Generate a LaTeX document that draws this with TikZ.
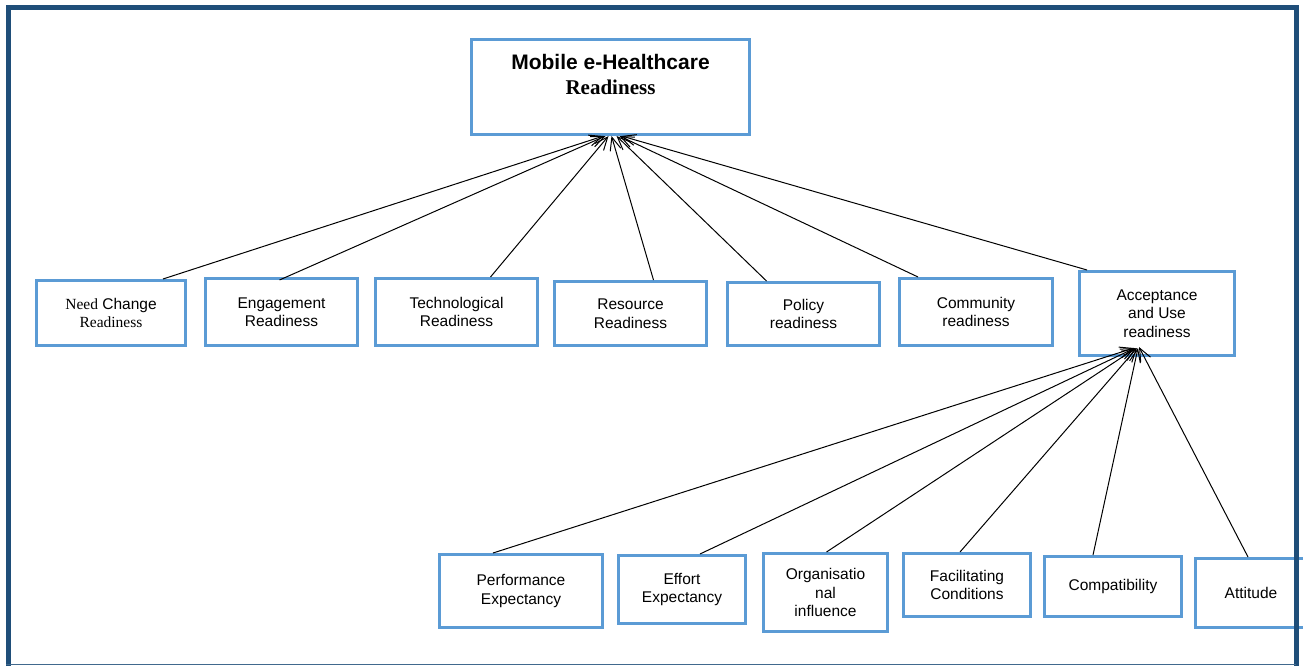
\documentclass[tikz,border=0pt]{standalone}
\usepackage{fontspec}
\setmainfont{Liberation Serif}
\setsansfont{Liberation Sans}
\usetikzlibrary{arrows.meta}
\definecolor{boxblue}{HTML}{5B9BD5}
\definecolor{framenavy}{HTML}{1F4E79}
\tikzset{
  box/.style={draw=boxblue, line width=3pt, fill=white, align=center, inner sep=2pt,
    font=\sffamily\fontsize{15.5}{18.5}\selectfont},
  link/.style={line width=1pt, -{Straight Barb[length=13pt,width=11pt]}},
  framebar/.style={fill=framenavy, draw=none},
}
\begin{document}
\begin{tikzpicture}[x=1pt,y=-1pt]
\useasboundingbox (0,0) rectangle (1303,666);

% goal
\node[box, minimum width=278, minimum height=95,
      font=\sffamily\bfseries\fontsize{21}{25}\selectfont] (goal) at (610.5,87)
  {Mobile e-Healthcare\\{\rmfamily Readiness}\\\mbox{}};

% readiness dimensions
\node[box, minimum width=149, minimum height=65] (need) at (111,313)
  {{\rmfamily Need} Change\\{\rmfamily Readiness}};
\node[box, minimum width=152, minimum height=67] (eng) at (281.5,312)
  {Engagement\\Readiness};
\node[box, minimum width=162, minimum height=67] (tech) at (456.5,312)
  {Technological\\Readiness};
\node[box, minimum width=152, minimum height=64] (res) at (630.5,313.5)
  {Resource\\Readiness};
\node[box, minimum width=152, minimum height=63] (pol) at (803.5,314)
  {Policy\\readiness};
\node[box, minimum width=153, minimum height=67] (com) at (976,312)
  {Community\\readiness};
\node[box, minimum width=155, minimum height=84] (acc) at (1157,313.5)
  {Acceptance\\and Use\\readiness};

% acceptance factors
\node[box, minimum width=163, minimum height=73] (perf) at (521,591)
  {Performance\\Expectancy};
\node[box, minimum width=127, minimum height=68] (eff) at (682,589.5)
  {Effort\\Expectancy};
\node[box, minimum width=124, minimum height=78] (org) at (825.5,592.5)
  {Organisatio\\nal\\influence};
\node[box, minimum width=127, minimum height=63] (fac) at (967,585)
  {Facilitating\\Conditions};
\node[box, minimum width=137, minimum height=60] (cmp) at (1113,586.5)
  {Compatibility};
\node[box, minimum width=111, minimum height=69] (att) at (1251,593)
  {Attitude};

% links to the goal
\draw[link] ([xshift=52]need.north) -- ([xshift=-7]goal.south);
\draw[link] ([xshift=-2,yshift=-3]eng.north) -- ([xshift=-5]goal.south);
\draw[link] ([xshift=34]tech.north) -- ([xshift=-2]goal.south);
\draw[link] ([xshift=23]res.north) -- ([xshift=1]goal.south);
\draw[link] ([xshift=-37]pol.north) -- ([xshift=6]goal.south);
\draw[link] ([xshift=-58]com.north) -- ([xshift=9]goal.south);
\draw[link] ([xshift=-70]acc.north) -- ([xshift=11]goal.south);

% links to acceptance and use
\draw[link] ([xshift=-28]perf.north) -- ([xshift=-23,yshift=9]acc.south);
\draw[link] ([xshift=18]eff.north) -- ([xshift=-22,yshift=9]acc.south);
\draw[link] ([xshift=1]org.north) -- ([xshift=-21,yshift=9]acc.south);
\draw[link] ([xshift=-7]fac.north) -- ([xshift=-20,yshift=9]acc.south);
\draw[link] ([xshift=-20]cmp.north) -- ([xshift=-19,yshift=9]acc.south);
\draw[link] ([xshift=-3]att.north) -- ([xshift=-18,yshift=10]acc.south);

% outer frame
\fill[framebar] (6,5) rectangle (11,666);
\fill[framebar] (6,5) rectangle (1299,10);
\fill[framebar] (1294,5) rectangle (1299,666);
\fill[framenavy!85] (6,663.8) rectangle (1296,665.3);
\end{tikzpicture}
\end{document}
